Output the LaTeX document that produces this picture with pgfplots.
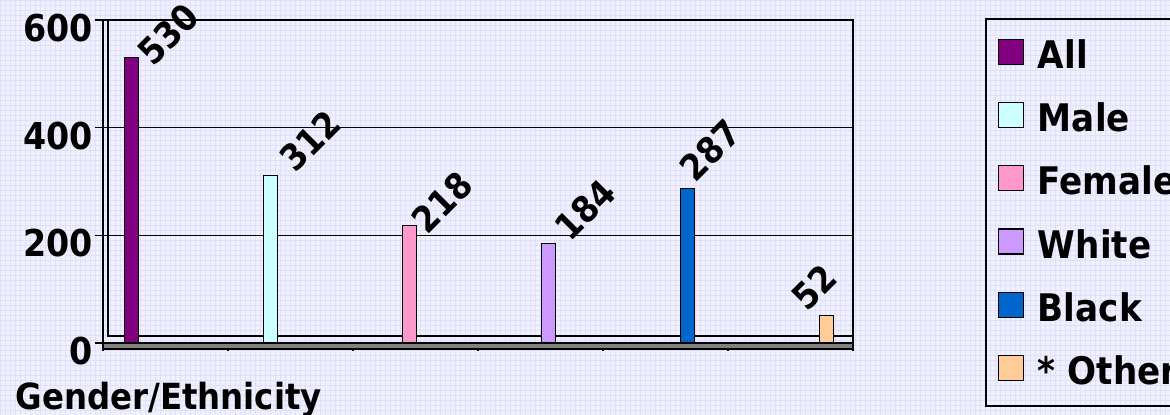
\documentclass[border=0pt]{standalone}
\usepackage{fontspec}
\setmainfont{DejaVu Sans Condensed}[BoldFont={DejaVu Sans Condensed Bold}]
\usepackage{pgfplots}
\pgfplotsset{compat=1.18}
\definecolor{bg}{RGB}{240,240,255}
\definecolor{gridc}{RGB}{224,224,252}
\definecolor{floorc}{RGB}{128,128,128}
\definecolor{cAll}{RGB}{128,0,128}
\definecolor{cMale}{RGB}{204,255,255}
\definecolor{cFemale}{RGB}{255,153,204}
\definecolor{cWhite}{RGB}{204,153,255}
\definecolor{cBlack}{RGB}{0,102,204}
\definecolor{cOther}{RGB}{255,204,153}
\pgfplotsset{lbl/.style 2 args={every node near coord/.append style={xshift=#1, yshift=#2, rotate=45, anchor=south west}}}
\begin{document}
\begin{tikzpicture}
\fill[bg] (0,0) rectangle (585pt,207.5pt);
\draw[gridc, line width=0.3pt, step=2.5pt] (0,0) grid (585pt,207.5pt);
\begin{axis}[
  at={(51.5pt,36pt)}, anchor=south west,
  scale only axis, width=375pt, height=161.5pt,
  xmin=0, xmax=6, ymin=0, ymax=600,
  xtick={0,1,2,3,4,5,6}, xticklabels={},
  ytick={0,200,400,600},
  xtick pos=bottom, ytick pos=left,
  ymajorgrids, major grid style={black, line width=0.5pt},
  axis line style={black, line width=0.8pt},
  tick style={black, line width=0.8pt},
  tick align=outside, major tick length=4pt,
  /pgf/number format/assume math mode=true,
  yticklabel style={font=\bfseries\fontsize{18.5}{18.5}\selectfont, xshift=2.5pt, yshift=-4pt},
  xlabel={Gender/Ethnicity},
  xlabel style={at={(axis description cs:-0.126,-0.175)}, anchor=west, font=\bfseries\fontsize{18}{18}\selectfont},
  clip=false,
  nodes near coords,
  every node near coord/.style={text=black, inner sep=0pt, font=\bfseries\fontsize{18}{18}\selectfont},
  legend style={at={(1.176,1.006)}, anchor=north west, draw=black, line width=0.8pt, fill=none,
    font=\bfseries\fontsize{19}{19}\selectfont, row sep=0pt,
    nodes={text height=16pt, text depth=2pt, inner ysep=6.8pt, inner xsep=7pt}},
  legend cell align=left,
  legend image code/.code={\path (0pt,0pt); \filldraw[#1, draw=black, line width=0.6pt] (3pt,-5pt) rectangle (15.5pt,7.5pt);},
]
\filldraw[fill=floorc, draw=black, line width=0.6pt] (axis cs:0,-11) rectangle (axis cs:6,0);
\draw[black, line width=0.7pt] ([xshift=2.5pt]rel axis cs:0,1) -- ([xshift=2.5pt,yshift=3.5pt]rel axis cs:0,0) -- ([yshift=3.5pt]rel axis cs:1,0);
\addplot[ybar, bar shift=0pt, bar width=7pt, fill=cAll, draw=black, line width=0.5pt, lbl={11.5pt}{-5.5pt}] coordinates {(0.224,530)};
\addlegendentry{All}
\addplot[ybar, bar shift=0pt, bar width=7pt, fill=cMale, draw=black, line width=0.5pt, lbl={13pt}{0pt}] coordinates {(1.336,312)};
\addlegendentry{Male}
\addplot[ybar, bar shift=0pt, bar width=7pt, fill=cFemale, draw=black, line width=0.5pt, lbl={9.5pt}{-5.5pt}] coordinates {(2.448,218)};
\addlegendentry{Female}
\addplot[ybar, bar shift=0pt, bar width=7pt, fill=cWhite, draw=black, line width=0.5pt, lbl={11.5pt}{0pt}] coordinates {(3.56,184)};
\addlegendentry{White}
\addplot[ybar, bar shift=0pt, bar width=7pt, fill=cBlack, draw=black, line width=0.5pt, lbl={4.5pt}{2pt}] coordinates {(4.672,287)};
\addlegendentry{Black}
\addplot[ybar, bar shift=0pt, bar width=7pt, fill=cOther, draw=black, line width=0.5pt, lbl={-9pt}{0.5pt}] coordinates {(5.784,52)};
\addlegendentry{* Other}
\end{axis}
\pgfresetboundingbox
\useasboundingbox (0,0) rectangle (585pt,207.5pt);
\end{tikzpicture}
\end{document}
